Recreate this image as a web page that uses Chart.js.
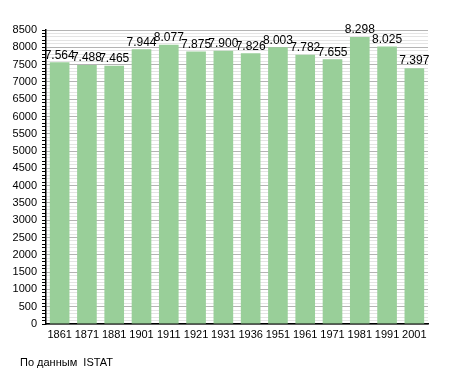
<!DOCTYPE html>
<html>
<head>
<meta charset="utf-8">
<script src="https://cdn.jsdelivr.net/npm/chart.js@4/dist/chart.umd.min.js"></script>
<style>
  body { margin: 0; background: #fff; }
  #wrap { position: relative; width: 455px; height: 373px; }
  #source { position: absolute; left: 20px; top: 356px; font: 11px "Liberation Sans", Arial, sans-serif; color: #000; }
</style>
</head>
<body>
<div id="wrap">
  <canvas id="chart" width="455" height="373"></canvas>
  <div id="source">По данным&nbsp; ISTAT</div>
</div>
<script>
// Census years and population
const years = ['1861', '1871', '1881', '1901', '1911', '1921', '1931', '1936', '1951', '1961', '1971', '1981', '1991', '2001'];
const population = [7564, 7488, 7465, 7944, 8077, 7875, 7900, 7826, 8003, 7782, 7655, 8298, 8025, 7397];
const yMax = 8500;
const majorStep = 500;
const minorStep = 100;

const fontFamily = '"Liberation Sans", Arial, sans-serif';

// thousands with a dot, like 7.564
function formatValue(v) {
    return String(v).replace(/\B(?=(\d{3})+(?!\d))/g, '.');
}

// Write the value above each bar
const valueLabels = {
    id: 'valueLabels',
    afterDatasetsDraw(chart) {
        const ctx = chart.ctx;
        const meta = chart.getDatasetMeta(0);
        ctx.save();
        ctx.font = '12px ' + fontFamily;
        ctx.fillStyle = '#000';
        ctx.textAlign = 'center';
        ctx.textBaseline = 'bottom';
        meta.data.forEach((bar, i) => {
            ctx.fillText(formatValue(population[i]), bar.x, bar.y - 1);
        });
        ctx.restore();
    }
};

new Chart(document.getElementById('chart'), {
    type: 'bar',
    data: {
        labels: years,
        datasets: [{
            data: population,
            backgroundColor: '#99cf99',
            borderWidth: 0,
            barPercentage: 0.8,
            categoryPercentage: 0.9
        }]
    },
    options: {
        responsive: false,
        animation: false,
        layout: { padding: { left: 0, right: 27, top: 30, bottom: 29 } },
        plugins: {
            legend: { display: false },
            tooltip: { enabled: false }
        },
        scales: {
            x: {
                grid: { display: false, drawTicks: false },
                border: { color: '#000', width: 1.5 },
                ticks: { color: '#000', font: { size: 11, family: fontFamily }, padding: 4, maxRotation: 0, autoSkip: false },
                afterFit(scale) { scale.height = 20; }
            },
            y: {
                min: 0,
                max: yMax,
                border: { color: '#000', width: 1.5 },
                grid: {
                    color: ctx => (ctx.tick && ctx.tick.value % majorStep === 0) ? '#b4b4b4' : '#e4e4e4',
                    tickColor: '#000',
                    tickLength: 4
                },
                ticks: {
                    stepSize: minorStep,
                    autoSkip: false,
                    color: '#000',
                    font: { size: 11, family: fontFamily },
                    padding: 5,
                    callback: v => (v % majorStep === 0 ? String(v) : '')
                },
                afterFit(scale) { scale.width = 46; }
            }
        }
    },
    plugins: [valueLabels]
});
</script>
</body>
</html>
